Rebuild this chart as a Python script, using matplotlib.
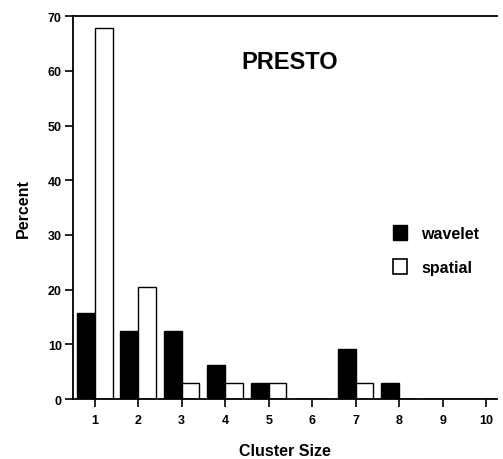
import numpy as np
import matplotlib.pyplot as plt
from matplotlib.patches import Patch

# Cluster size distribution
cluster_size = [1, 2, 3, 4, 5, 6, 7, 8, 9, 10]
wavelet = [15.7, 12.4, 12.4, 6.2, 2.9, 0, 9.1, 2.9, 0, 0]
spatial = [67.8, 20.5, 2.9, 2.9, 2.9, 0, 2.9, 0, 0, 0]

plt.rcParams['font.family'] = ['Liberation Sans', 'DejaVu Sans']
plt.rcParams['font.weight'] = 'bold'

fig = plt.figure(figsize=(5.03, 4.60), dpi=100)
ax = fig.add_axes([0.145, 0.130, 0.843, 0.833])

x = np.array(cluster_size)
w = 0.41
ax.bar(x - w / 2, wavelet, width=w, color='black', edgecolor='black', linewidth=1)
ax.bar(x + w / 2, spatial, width=w, color='white', edgecolor='black', linewidth=1)

ax.set_xlim(0.5, 10.25)
ax.set_ylim(0, 70)
ax.set_xticks(x)
ax.set_yticks(range(0, 71, 10))
ax.tick_params(axis='both', direction='out', length=6, width=1.2, labelsize=9)
ax.tick_params(axis='x', pad=5)
ax.tick_params(axis='y', pad=2)
for lbl in ax.get_xticklabels() + ax.get_yticklabels():
    lbl.set_fontweight('bold')

ax.spines['right'].set_visible(False)
for s in ['left', 'bottom', 'top']:
    ax.spines[s].set_linewidth(1.3)

ax.set_xlabel('Cluster Size', fontsize=11.5, fontweight='bold', labelpad=12)
ax.set_ylabel('Percent', fontsize=11.5, fontweight='bold', labelpad=12)

ax.text(0.512, 0.882, 'PRESTO', transform=ax.transAxes, ha='center', va='center',
        fontsize=17, fontweight='bold')

handles = [Patch(facecolor='black', edgecolor='black', label='wavelet'),
           Patch(facecolor='white', edgecolor='black', linewidth=1.2, label='spatial')]
ax.legend(handles=handles, loc='center left', bbox_to_anchor=(0.72, 0.39),
          frameon=False, handlelength=0.9, handleheight=1.1,
          labelspacing=1.1, handletextpad=0.9,
          prop={'weight': 'bold', 'size': 11.5})

fig.savefig('out.png', dpi=100)
